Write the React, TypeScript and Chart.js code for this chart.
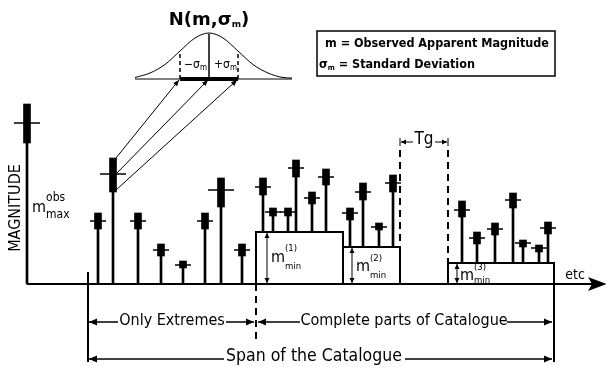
import React, { useEffect, useRef } from "react";
import { Chart, registerables } from "chart.js";
Chart.register(...registerables);

// ---- data (x = time along the catalogue, y = magnitude, 0 = axis) ----
const STEM_X = [27, 98, 113, 138, 161, 183, 205, 221, 242, 263, 273, 288, 296, 312, 326, 350, 363, 379, 393, 462, 477, 495, 513, 523, 539, 548];
const STEM_BASE = [0, 0, 0, 0, 0, 0, 0, 0, 0, 52, 52, 52, 52, 52, 52, 37, 37, 37, 37, 21, 21, 21, 21, 21, 21, 21];
const SIGMA_LOW = [141, 55, 92, 55, 28, 16, 55, 77, 28, 89, 68, 68, 107, 80, 99, 64, 84, 54, 92, 67, 40, 49, 76, 37, 32, 50];
const SIGMA_HIGH = [180, 71, 126, 71, 40, 23, 71, 106, 40, 106, 76, 76, 124, 92, 115, 76, 101, 61, 109, 83, 52, 61, 91, 44, 39, 62];
const M_OBS = [161, 63, 110, 63, 34, 19, 63, 94, 34, 97, 72, 72, 116, 86, 107, 71, 92, 57, 101, 74, 46, 55, 84, 41, 36, 56];

const REGION_START = [256, 343, 448];
const REGION_END = [343, 400, 554];
const M_MIN = [52, 37, 21];

const GAUSS_X = [135, 150, 165, 180, 195, 209, 223, 238, 253, 268, 283, 292];
const GAUSS_Y = [206.5, 211, 219.5, 233, 246, 251, 246, 233, 219.5, 211, 206.5, 206];

const SPAN_START = 88;
const SPAN_END = 554;
const COMPLETE_START = 256;
const TG_START = 400;
const TG_END = 448;

const INK = "#000";
const FONT = '"DejaVu Sans", Verdana, sans-serif';
const FONT_C = '"DejaVu Sans Condensed", "Liberation Sans", sans-serif';

const annot = {
  id: "annot",
  afterDatasetsDraw(chart: any) {
    const { ctx } = chart;
    const xs = chart.scales.x;
    const ys = chart.scales.y;
    const X = (v: number) => xs.getPixelForValue(v);
    const Y = (v: number) => ys.getPixelForValue(v);
    ctx.save();
    ctx.strokeStyle = INK;
    ctx.fillStyle = INK;
    ctx.lineCap = "butt";

    const line = (x0: number, y0: number, x1: number, y1: number, w = 1.5, dash: number[] = []) => {
      ctx.beginPath();
      ctx.setLineDash(dash);
      ctx.lineWidth = w;
      ctx.moveTo(X(x0), Y(y0));
      ctx.lineTo(X(x1), Y(y1));
      ctx.stroke();
      ctx.setLineDash([]);
    };
    const head = (tx: number, ty: number, fx: number, fy: number, len = 8, half = 3.5, notch = 0) => {
      const ax = X(tx), ay = Y(ty);
      const bx = X(fx), by = Y(fy);
      const a = Math.atan2(ay - by, ax - bx);
      const c = Math.cos(a), s = Math.sin(a);
      ctx.beginPath();
      ctx.moveTo(ax, ay);
      ctx.lineTo(ax - len * c - half * s, ay - len * s + half * c);
      ctx.lineTo(ax - (len - notch) * c, ay - (len - notch) * s);
      ctx.lineTo(ax - len * c + half * s, ay - len * s - half * c);
      ctx.closePath();
      ctx.fill();
    };
    const text = (t: string, x: number, y: number, font: string, align: CanvasTextAlign = "center", base: CanvasTextBaseline = "middle") => {
      ctx.font = font;
      ctx.textAlign = align;
      ctx.textBaseline = base;
      ctx.fillText(t, X(x), Y(y));
    };
    // label like m^sup_sub, left aligned at x, alphabetic baseline at y
    const mathLabel = (x: number, y: number, base: string, sup: string, sub: string, size: number, small: number, supUp: number, subDown: number, fam = FONT) => {
      ctx.font = `${size}px ${fam}`;
      ctx.textAlign = "left";
      ctx.textBaseline = "alphabetic";
      const px = X(x), py = Y(y);
      ctx.fillText(base, px, py);
      const w = ctx.measureText(base).width;
      ctx.font = `${small}px ${fam}`;
      if (sup) ctx.fillText(sup, px + w, py - supUp);
      if (sub) ctx.fillText(sub, px + w, py + subDown);
    };

    // time axis with arrow
    line(27, 0, 592, 0, 2);
    head(607, 0, 588, 0, 19, 7, 4);
    text("etc", 575, 9, `14px ${FONT_C}`);

    // span verticals
    line(SPAN_START, 12, SPAN_START, -78, 2);
    line(SPAN_END, 0, SPAN_END, -78, 2);
    line(COMPLETE_START, 0, COMPLETE_START, -59, 2, [7, 5]);

    // row 1 arrows
    const r1 = -38;
    line(SPAN_START + 1, r1, 118, r1, 1.5);
    head(SPAN_START + 1, r1, 118, r1);
    text("Only Extremes", 172, r1 + 1, `16px ${FONT_C}`);
    line(226, r1, COMPLETE_START - 2, r1, 1.5);
    head(COMPLETE_START - 2, r1, 226, r1);
    line(COMPLETE_START + 2, r1, 300, r1, 1.5);
    head(COMPLETE_START + 2, r1, 300, r1);
    text("Complete parts of Catalogue", 404, r1 + 1, `16px ${FONT_C}`);
    line(507, r1, SPAN_END - 2, r1, 1.5);
    head(SPAN_END - 2, r1, 507, r1);

    // row 2 arrows
    const r2 = -75;
    line(SPAN_START + 1, r2, 224, r2, 1.5);
    head(SPAN_START + 1, r2, 224, r2);
    text("Span of the Catalogue", 314, r2 + 3, `17.5px ${FONT_C}`);
    line(405, r2, SPAN_END - 2, r2, 1.5);
    head(SPAN_END - 2, r2, 405, r2);

    // Tg gap
    line(TG_START, 134, TG_START, M_MIN[1], 2, [7, 5]);
    line(TG_END, 134, TG_END, M_MIN[2], 2, [7, 5]);
    const tg = 142;
    line(TG_START, tg + 4, TG_START, tg - 4, 1);
    line(TG_END, tg + 4, TG_END, tg - 4, 1);
    line(TG_START + 1, tg, 413, tg, 1);
    head(TG_START + 1, tg, 413, tg, 5, 2.5);
    line(435, tg, TG_END - 1, tg, 1);
    head(TG_END - 1, tg, 435, tg, 5, 2.5);
    text("Tg", 424, tg + 2, `17px ${FONT_C}`);

    // m_min double arrows and labels
    const dbl = (x: number, top: number) => {
      line(x, top - 1, x, 1, 1);
      head(x, top - 1, x, 1, 5, 2.5);
      head(x, 1, x, top - 1, 5, 2.5);
    };
    dbl(267, M_MIN[0]);
    dbl(352, M_MIN[1]);
    dbl(457, M_MIN[2]);
    mathLabel(271, 22, "m", "(1)", "min", 16, 9.5, 11, 7, FONT_C);
    mathLabel(356, 13, "m", "(2)", "min", 16, 9.5, 10, 7, FONT_C);
    mathLabel(460, 4, "m", "(3)", "min", 16, 9.5, 10, 3, FONT_C);
    mathLabel(32, 72, "m", "obs", "max", 16, 12, 11, 6, FONT_C);

    // y label
    ctx.save();
    ctx.translate(X(16), Y(76));
    ctx.rotate(-Math.PI / 2);
    ctx.font = `16px ${FONT_C}`;
    ctx.textAlign = "center";
    ctx.textBaseline = "middle";
    ctx.fillText("MAGNITUDE", 0, 0);
    ctx.restore();

    // Gaussian inset
    line(135, 205, 292, 205, 1);
    line(180, 205, 238, 205, 4);
    line(209, 205, 209, 250, 1.5);
    line(180, 205, 180, 232, 1.5, [4, 3]);
    line(238, 205, 238, 232, 1.5, [4, 3]);
    mathLabel(184, 216, "\u2212\u03c3", "", "m", 12, 8, 0, 2, FONT_C);
    mathLabel(214, 216, "+\u03c3", "", "m", 12, 8, 0, 2, FONT_C);
    // arrows from the observation to the distribution
    const arrows = [
      [116, 126, 179, 204],
      [116, 110, 208, 204],
      [116, 94, 237, 204],
    ];
    arrows.forEach(([a, b, c, d]) => {
      line(a, b, c, d, 1);
      head(c, d, a, b, 6, 2.5);
    });
    // title N(m, sigma_m)
    {
      const big = `bold 18px ${FONT}`;
      const sm = `bold 9px ${FONT}`;
      ctx.textBaseline = "alphabetic";
      ctx.textAlign = "left";
      ctx.font = big;
      const p1 = "N(m,\u03c3";
      const w1 = ctx.measureText(p1).width;
      const w3 = ctx.measureText(")").width;
      ctx.font = sm;
      const w2 = ctx.measureText("m").width;
      const total = w1 + w2 + w3;
      let x = X(209) - total / 2;
      const y = Y(284 - 25);
      ctx.font = big;
      ctx.fillText(p1, x, y);
      x += w1;
      ctx.font = sm;
      ctx.fillText("m", x, y + 2);
      x += w2;
      ctx.font = big;
      ctx.fillText(")", x, y);
    }

    // legend box
    ctx.lineWidth = 1.5;
    ctx.strokeRect(X(317), Y(253), X(555) - X(317), Y(208) - Y(253));
    ctx.font = `bold 12.5px ${FONT_C}`;
    ctx.textAlign = "left";
    ctx.textBaseline = "alphabetic";
    ctx.fillText("m = Observed Apparent Magnitude", X(325), Y(284 - 47));
    {
      const x0 = X(319);
      const y0 = Y(284 - 68);
      ctx.font = `bold 12.5px ${FONT_C}`;
      ctx.fillText("\u03c3", x0, y0);
      const w = ctx.measureText("\u03c3").width;
      ctx.font = `bold 7.5px ${FONT_C}`;
      ctx.fillText("m", x0 + w, y0 + 2);
      const w2 = ctx.measureText("m").width;
      ctx.font = `bold 12.5px ${FONT_C}`;
      ctx.fillText(" = Standard Deviation", x0 + w + w2, y0);
    }

    ctx.restore();
  },
};

export default function App() {
  const ref = useRef<HTMLCanvasElement>(null);
  useEffect(() => {
    document.body.style.margin = "0";
    const canvas = ref.current!;
    const pts = (ys: number[]) => STEM_X.map((x, i) => ({ x, y: ys[i] }));
    const regionDatasets = REGION_START.map((x0, i) => ({
      type: "line" as const,
      data: [
        { x: x0, y: 0 },
        { x: x0, y: M_MIN[i] },
        { x: REGION_END[i], y: M_MIN[i] },
        { x: REGION_END[i], y: 0 },
      ],
      borderColor: INK,
      borderWidth: 2,
      pointRadius: 0,
      fill: false,
      tension: 0,
    }));
    const chart = new Chart(canvas, {
      type: "bar",
      data: {
        datasets: [
          {
            type: "bar",
            data: STEM_X.map((x, i) => ({ x, y: [STEM_BASE[i], SIGMA_LOW[i]] })),
            backgroundColor: INK,
            barThickness: 2,
            grouped: false,
          } as any,
          {
            type: "bar",
            data: STEM_X.map((x, i) => ({ x, y: [SIGMA_LOW[i], SIGMA_HIGH[i]] })),
            backgroundColor: INK,
            barThickness: 7,
            grouped: false,
          } as any,
          {
            type: "scatter",
            data: pts(M_OBS),
            pointStyle: "line",
            pointRadius: (c: any) => ([0, 2, 7].includes(c.dataIndex) ? 13 : 8),
            borderColor: INK,
            borderWidth: 1.5,
            showLine: false,
          } as any,
          ...regionDatasets,
          {
            type: "line",
            data: GAUSS_X.map((x, i) => ({ x, y: GAUSS_Y[i] })),
            borderColor: INK,
            borderWidth: 1,
            pointRadius: 0,
            cubicInterpolationMode: "monotone",
            fill: false,
          } as any,
        ],
      },
      options: {
        animation: false,
        responsive: false,
        devicePixelRatio: 1,
        events: [],
        layout: { padding: 0, autoPadding: false },
        plugins: { legend: { display: false }, tooltip: { enabled: false } },
        scales: {
          x: { type: "linear", min: 0, max: 606, display: false, offset: false, grid: { display: false } },
          y: { type: "linear", min: -83, max: 284, display: false, grid: { display: false } },
        },
      } as any,
      plugins: [annot],
    });
    return () => chart.destroy();
  }, []);
  return <canvas ref={ref} width={606} height={367} style={{ display: "block" }} />;
}
